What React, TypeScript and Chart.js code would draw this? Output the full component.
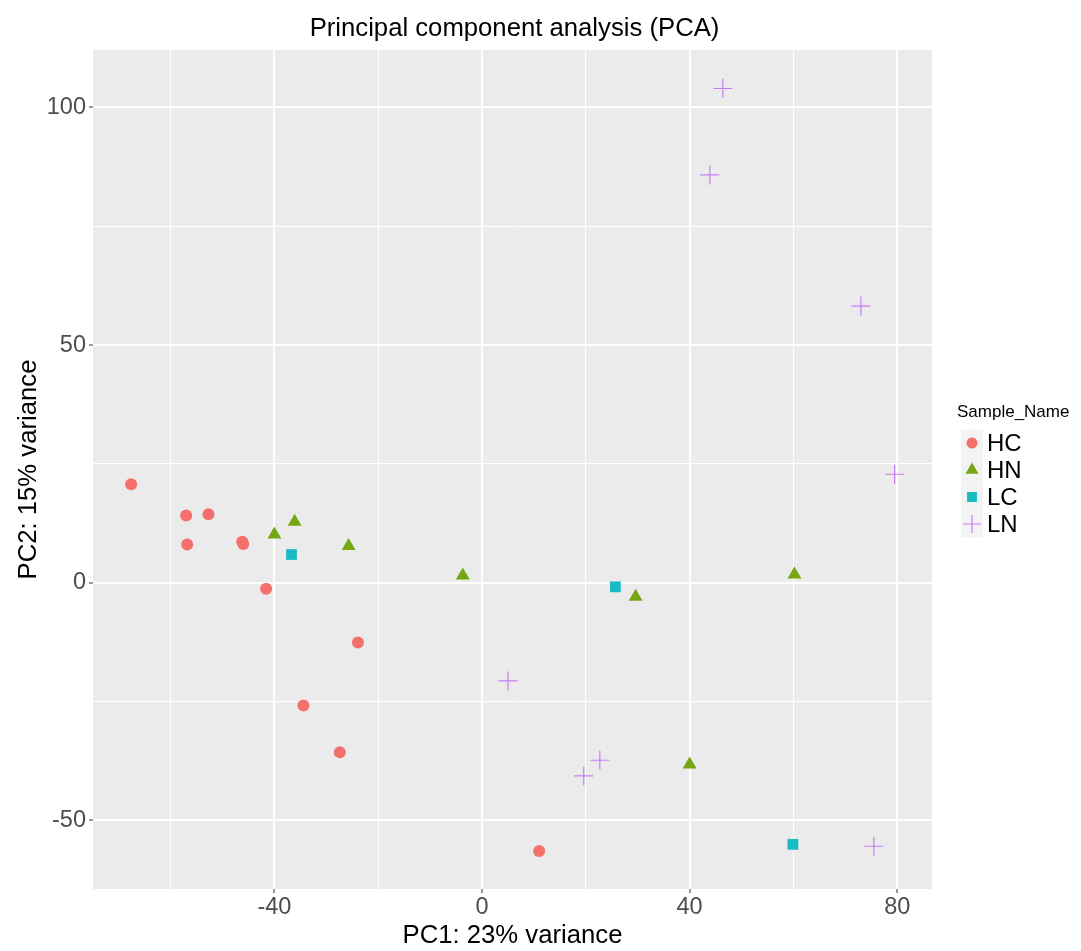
import React, { useEffect, useRef } from 'react';
import { Chart, registerables } from 'chart.js';

Chart.register(...registerables);

// ---- Data ----
const GROUPS = ['HC', 'HN', 'LC', 'LN'];
const HC_X = [-67.6, -57.0, -52.7, -56.8, -46.2, -46.0, -41.6, -23.9, -34.4, -27.4, 11.0];
const HC_Y = [20.7, 14.1, 14.4, 8.0, 8.6, 8.1, -1.3, -12.6, -25.9, -35.7, -56.5];
const HN_X = [-40.0, -36.1, -25.7, -3.7, 29.6, 60.2, 40.0];
const HN_Y = [10.1, 12.8, 7.7, 1.5, -3.0, 1.7, -38.3];
const LC_X = [-36.7, 25.7, 59.9];
const LC_Y = [5.9, -0.9, -55.1];
const LN_X = [46.4, 43.9, 73.0, 79.5, 5.0, 19.6, 22.7, 75.5];
const LN_Y = [104.0, 85.8, 58.2, 22.8, -20.7, -40.7, -37.4, -55.5];

const X_TICK_LABELS = [-40, 0, 40, 80];
const Y_TICK_LABELS = [-50, 0, 50, 100];

const COLORS = ['#F3706C', '#76A612', '#19BBC2', '#C87EF8'];
const POINT_STYLES = ['circle', 'triangle', 'rect', 'cross'];
const POINT_RADII = [6, 8, 7.6, 9.5];
const LEGEND_RADII = [5.5, 7.6, 7, 9];

const TITLE = 'Principal component analysis (PCA)';
const X_TITLE = 'PC1: 23% variance';
const Y_TITLE = 'PC2: 15% variance';
const LEGEND_TITLE = 'Sample_Name';

const FONT = '"Liberation Sans", Arial, Helvetica, sans-serif';

function toPoints(xs: number[], ys: number[]) {
  return xs.map((x, i) => ({ x, y: ys[i] }));
}

const SERIES = [
  toPoints(HC_X, HC_Y),
  toPoints(HN_X, HN_Y),
  toPoints(LC_X, LC_Y),
  toPoints(LN_X, LN_Y),
];

function drawMarker(ctx: CanvasRenderingContext2D, style: string, x: number, y: number, r: number, color: string) {
  ctx.save();
  ctx.fillStyle = color;
  ctx.strokeStyle = color;
  ctx.beginPath();
  if (style === 'circle') {
    ctx.arc(x, y, r, 0, Math.PI * 2);
    ctx.fill();
  } else if (style === 'triangle') {
    for (let k = 0; k < 3; k++) {
      const a = -Math.PI / 2 + (k * 2 * Math.PI) / 3;
      const px = x + Math.cos(a) * r;
      const py = y + Math.sin(a) * r;
      if (k === 0) ctx.moveTo(px, py);
      else ctx.lineTo(px, py);
    }
    ctx.closePath();
    ctx.fill();
  } else if (style === 'rect') {
    const s = r * Math.SQRT1_2;
    ctx.fillRect(x - s, y - s, 2 * s, 2 * s);
  } else {
    ctx.lineWidth = 1.2;
    ctx.moveTo(x - r, y);
    ctx.lineTo(x + r, y);
    ctx.moveTo(x, y - r);
    ctx.lineTo(x, y + r);
    ctx.stroke();
  }
  ctx.restore();
}

const panelPlugin = {
  id: 'panelBg',
  beforeDraw(chart: any) {
    const { ctx, chartArea: a } = chart;
    ctx.save();
    ctx.fillStyle = '#EBEBEB';
    ctx.fillRect(a.left, a.top, a.right - a.left, a.bottom - a.top);
    ctx.restore();
  },
};

const decorPlugin = {
  id: 'decor',
  afterDraw(chart: any) {
    const { ctx, chartArea: a } = chart;
    ctx.save();
    // Title
    ctx.fillStyle = '#000000';
    ctx.font = `25.7px ${FONT}`;
    ctx.textAlign = 'center';
    ctx.textBaseline = 'alphabetic';
    ctx.fillText(TITLE, (a.left + a.right) / 2 + 2, 36);

    // Legend
    const lx = a.right + 26;
    ctx.textAlign = 'left';
    ctx.font = `17px ${FONT}`;
    ctx.fillText(LEGEND_TITLE, lx - 1, 417);
    const keyX = lx + 14;
    GROUPS.forEach((g, i) => {
      const cy = 443 + i * 27;
      ctx.fillStyle = '#F3F3F3';
      ctx.fillRect(keyX - 11, cy - 13.5, 22, 27);
    });
    GROUPS.forEach((g, i) => {
      const cy = 443 + i * 27;
      drawMarker(ctx, POINT_STYLES[i], keyX, cy, LEGEND_RADII[i], COLORS[i]);
      ctx.fillStyle = '#000000';
      ctx.font = `24px ${FONT}`;
      ctx.textBaseline = 'middle';
      ctx.fillText(g, keyX + 15, cy + 1);
    });
    ctx.restore();
  },
};

export default function App() {
  const canvasRef = useRef<HTMLCanvasElement | null>(null);

  useEffect(() => {
    const canvas = canvasRef.current;
    if (!canvas) return;
    Chart.defaults.font.family = FONT;

    const isMajorX = (v: number) => X_TICK_LABELS.includes(v);
    const isMajorY = (v: number) => Y_TICK_LABELS.includes(v);

    const chart = new Chart(canvas, {
      type: 'scatter',
      data: {
        datasets: GROUPS.map((g, i) => ({
          label: g,
          data: SERIES[i],
          pointStyle: POINT_STYLES[i] as any,
          pointRadius: POINT_RADII[i],
          pointHoverRadius: POINT_RADII[i],
          backgroundColor: COLORS[i],
          borderColor: COLORS[i],
          borderWidth: i === 3 ? 1.2 : 0,
          showLine: false,
        })),
      },
      options: {
        responsive: false,
        animation: false,
        devicePixelRatio: 1,
        layout: { padding: { top: 50, right: 149, left: 0, bottom: 0 } },
        plugins: {
          legend: { display: false },
          tooltip: { enabled: false },
          title: { display: false },
        },
        scales: {
          x: {
            type: 'linear',
            min: -74.95,
            max: 86.7,
            afterFit: (s: any) => {
              s.height = 62;
            },
            border: { display: false },
            grid: {
              color: '#FFFFFF',
              lineWidth: (c: any) => (c.tick && isMajorX(c.tick.value) ? 2 : 1),
              tickColor: (c: any) => (c.tick && isMajorX(c.tick.value) ? '#333333' : 'rgba(0,0,0,0)'),
              tickLength: 4,
              tickWidth: 1,
            },
            ticks: {
              stepSize: 20,
              includeBounds: false,
              autoSkip: false,
              maxRotation: 0,
              padding: 0,
              color: '#4D4D4D',
              font: { size: 23.5 },
              callback: (v: any) => (isMajorX(Number(v)) ? String(v) : ''),
            },
            title: {
              display: true,
              text: X_TITLE,
              color: '#000000',
              font: { size: 25.7 },
              padding: { top: 0, bottom: 0 },
            },
          },
          y: {
            type: 'linear',
            min: -64.5,
            max: 112.1,
            afterFit: (s: any) => {
              s.width = 93;
            },
            border: { display: false },
            grid: {
              color: '#FFFFFF',
              lineWidth: (c: any) => (c.tick && isMajorY(c.tick.value) ? 2 : 1),
              tickColor: (c: any) => (c.tick && isMajorY(c.tick.value) ? '#333333' : 'rgba(0,0,0,0)'),
              tickLength: 4,
              tickWidth: 1,
            },
            ticks: {
              stepSize: 25,
              includeBounds: false,
              autoSkip: false,
              padding: 3,
              color: '#4D4D4D',
              font: { size: 23.5 },
              callback: (v: any) => (isMajorY(Number(v)) ? String(v) : ''),
            },
            title: {
              display: true,
              text: Y_TITLE,
              color: '#000000',
              font: { size: 25.7 },
              padding: { top: 13, bottom: 0 },
            },
          },
        },
      },
      plugins: [panelPlugin, decorPlugin],
    });

    return () => {
      chart.destroy();
    };
  }, []);

  return (
    <div style={{ position: 'absolute', left: 0, top: 0, width: 1081, height: 951, background: '#FFFFFF' }}>
      <canvas ref={canvasRef} width={1081} height={951} style={{ display: 'block' }} />
    </div>
  );
}
